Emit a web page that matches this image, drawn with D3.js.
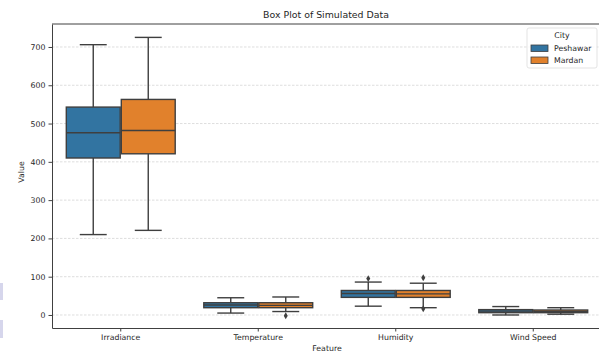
<!DOCTYPE html>
<html>
<head>
<meta charset="utf-8">
<script src="https://cdn.jsdelivr.net/npm/d3@7"></script>
<style>
  body { margin: 0; background: #fff; }
  svg { font-family: "DejaVu Sans", sans-serif; }
</style>
</head>
<body>
<div id="chart"></div>
<script>
// values
let features = ['Irradiance', 'Temperature', 'Humidity', 'Wind Speed'];
let cities = ['Peshawar', 'Mardan'];
let colors = ['#3274a1', '#e1812c'];
let yTicks = [0, 100, 200, 300, 400, 500, 600, 700];

// [low whisker, q1, median, q3, high whisker] per feature
let peshawar = [
    [210, 410, 476, 543, 706],
    [5, 19, 26, 32, 45],
    [23, 46, 56, 64, 86],
    [0, 6, 10, 14, 22]
];
let mardan = [
    [221, 421, 482, 563, 725],
    [9, 19, 25, 32, 47],
    [19, 46, 55, 64, 83],
    [2, 6, 9, 13, 19]
];
let peshawarOutliers = [[], [], [95], []];
let mardanOutliers = [[], [-2], [97, 16], []];

let width = 599, height = 354;
let margin = {top: 24, right: -3, bottom: 26, left: 52};

let svg = d3.select('#chart').append('svg').attr('width', width).attr('height', height);

// little screenshot leftovers on the left edge
svg.append('rect').attr('x', 0).attr('y', 283).attr('width', 3).attr('height', 17).attr('fill', '#d6d6ec');
svg.append('rect').attr('x', 0).attr('y', 320).attr('width', 3).attr('height', 18).attr('fill', '#d6d6ec');

let x = d3.scaleBand().domain(features).range([margin.left, width - margin.right]);
let xSub = d3.scaleBand().domain(cities).range([0, x.bandwidth() * 0.8]);
let y = d3.scaleLinear().domain([-34, 760]).range([height - margin.bottom, margin.top]);

// grid
svg.append('g')
    .selectAll('line')
    .data(yTicks)
    .join('line')
    .attr('x1', margin.left).attr('x2', width - margin.right)
    .attr('y1', d => y(d)).attr('y2', d => y(d))
    .attr('stroke', '#d0d0d0')
    .attr('stroke-width', 0.7)
    .attr('stroke-dasharray', '2.5,1.5');

let groups = [peshawar, mardan];
let outliers = [peshawarOutliers, mardanOutliers];
let edge = '#3f3f3f';

cities.forEach((city, ci) => {
    features.forEach((f, fi) => {
        let s = groups[ci][fi];
        let x0 = x(f) + x.bandwidth() * 0.1 + xSub(city);
        let bw = xSub.bandwidth() * 0.98;
        let bx = x0 + (xSub.bandwidth() - bw) / 2;
        let cx = x0 + xSub.bandwidth() / 2;
        let g = svg.append('g');
        // whiskers
        g.append('line').attr('x1', cx).attr('x2', cx).attr('y1', y(s[0])).attr('y2', y(s[1]))
            .attr('stroke', edge).attr('stroke-width', 1.4);
        g.append('line').attr('x1', cx).attr('x2', cx).attr('y1', y(s[3])).attr('y2', y(s[4]))
            .attr('stroke', edge).attr('stroke-width', 1.4);
        [s[0], s[4]].forEach(v => {
            g.append('line').attr('x1', cx - bw / 4).attr('x2', cx + bw / 4)
                .attr('y1', y(v)).attr('y2', y(v))
                .attr('stroke', edge).attr('stroke-width', 1.4);
        });
        g.append('rect')
            .attr('x', bx).attr('y', y(s[3]))
            .attr('width', bw).attr('height', y(s[1]) - y(s[3]))
            .attr('fill', colors[ci])
            .attr('stroke', edge).attr('stroke-width', 1.4);
        g.append('line').attr('x1', bx).attr('x2', bx + bw).attr('y1', y(s[2])).attr('y2', y(s[2]))
            .attr('stroke', edge).attr('stroke-width', 1.4);
        g.selectAll('path.out')
            .data(outliers[ci][fi])
            .join('path')
            .attr('transform', d => `translate(${cx},${y(d)})`)
            .attr('d', d3.symbol(d3.symbolDiamond, 14))
            .attr('fill', edge);
    });
});

// axes
let yAxis = d3.axisLeft(y).tickValues(yTicks).tickSize(3.5).tickSizeOuter(0).tickPadding(3);
let xAxis = d3.axisBottom(x).tickSize(3.5).tickSizeOuter(0).tickPadding(3);

let gy = svg.append('g').attr('transform', `translate(${margin.left},0)`).call(yAxis);
let gx = svg.append('g').attr('transform', `translate(0,${height - margin.bottom})`).call(xAxis);
[gx, gy].forEach(a => {
    a.select('.domain').attr('stroke', '#404040').attr('stroke-width', 1);
    a.selectAll('.tick line').attr('stroke', '#404040');
    a.selectAll('text').attr('font-size', 7.8).attr('fill', '#262626').attr('font-family', '"DejaVu Sans", sans-serif');
});
// top spine
svg.append('line').attr('x1', margin.left).attr('x2', width).attr('y1', margin.top).attr('y2', margin.top)
    .attr('stroke', '#404040').attr('stroke-width', 1);

svg.append('text').attr('x', 326).attr('y', 18).attr('text-anchor', 'middle')
    .attr('font-size', 9.4).attr('fill', '#262626').text('Box Plot of Simulated Data');
svg.append('text').attr('x', 327).attr('y', 351).attr('text-anchor', 'middle')
    .attr('font-size', 7.8).attr('fill', '#262626').text('Feature');
svg.append('text').attr('transform', 'translate(24,172) rotate(-90)').attr('text-anchor', 'middle')
    .attr('font-size', 7.8).attr('fill', '#262626').text('Value');

// legend
let lg = svg.append('g').attr('transform', 'translate(527,28)');
lg.append('rect').attr('width', 70).attr('height', 40).attr('rx', 2)
    .attr('fill', '#fff').attr('fill-opacity', 0.8).attr('stroke', '#dcdcdc').attr('stroke-width', 0.8);
lg.append('text').attr('x', 35).attr('y', 10).attr('text-anchor', 'middle')
    .attr('font-size', 7.8).attr('fill', '#262626').text('City');
cities.forEach((c, i) => {
    lg.append('rect').attr('x', 4).attr('y', 17 + i * 12).attr('width', 17).attr('height', 6.5)
        .attr('fill', colors[i]).attr('stroke', edge).attr('stroke-width', 0.8);
    lg.append('text').attr('x', 27).attr('y', 23 + i * 12)
        .attr('font-size', 7.8).attr('fill', '#262626').text(c);
});
</script>
</body>
</html>
